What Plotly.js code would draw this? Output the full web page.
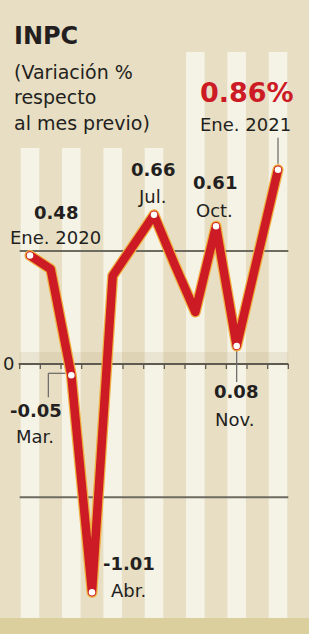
<!DOCTYPE html>
<html>
<head>
<meta charset="utf-8">
<script src="https://cdn.plot.ly/plotly-3.0.1.min.js"></script>
<style>
html,body{margin:0;padding:0;background:#e7dec3;}
#chart{width:309px;height:634px;}
path.js-line{stroke-linejoin:round !important;stroke-linecap:round !important;}
</style>
</head>
<body>
<div id="chart"></div>
<script>
// ---- data ----
const months = ["Ene. 2020","Feb.","Mar.","Abr.","May.","Jun.","Jul.","Ago.","Sep.","Oct.","Nov.","Dic.","Ene. 2021"];
const values = [0.48, 0.42, -0.05, -1.01, 0.39, 0.53, 0.66, 0.44, 0.23, 0.61, 0.08, 0.47, 0.86];
const labeledIdx = [0, 2, 3, 6, 9, 10, 12];
const valueTexts = ["0.48", "-0.05", "-1.01", "0.66", "0.61", "0.08", "0.86%"];
const monthTexts = ["Ene. 2020", "Mar.", "Abr.", "Jul.", "Oct.", "Nov.", "Ene. 2021"];
const gridVals = [0.5, -0.59];
const titleText = "INPC";
const subtitleLines = ["(Variación %", "respecto", "al mes previo)"];
const zeroLabel = "0";

// ---- layout helpers ----
const W = 309, H = 634;
const X0PX = 30, DXPX = 20.667, Y0PX = 364, DYPX = 226;
const xr = [-X0PX / DXPX, (W - X0PX) / DXPX];
const yr = [-(H - Y0PX) / DYPX, Y0PX / DYPX];
const yFromPx = p => (Y0PX - p) / DYPX;
const FONT = "'DejaVu Sans', sans-serif";
const INK = "#231f20";
const RED = "#cc1b24";

// label offsets (pixels) relative to each labeled point: [dx, dyValue, dyMonth]
const labelOffsets = [
  [26, 43, 18],
  [-35, -35, -61],
  [37, 29, 2],
  [-1, 45, 18],
  [-1, 44, 16],
  [-1, -46, -74],
  [-31, 77, 45]
];

const xs = months.map((m, i) => i);

const traces = [
  {x: xs, y: values, mode: "lines", line: {color: "#f0b040", width: 11}, hoverinfo: "skip"},
  {x: xs, y: values, mode: "lines", line: {color: RED, width: 8.5}, hoverinfo: "skip"},
  {x: labeledIdx, y: labeledIdx.map(i => values[i]), mode: "markers",
   marker: {color: "#ffffff", size: 6.5, line: {color: RED, width: 0}}, hoverinfo: "skip"}
];

const shapes = [];
// vertical stripes
for (let i = 0; i < months.length; i += 2) {
  shapes.push({type: "rect", layer: "below", xref: "x", yref: "y",
    x0: i - 0.45, x1: i + 0.45, y0: yFromPx(618), y1: yFromPx(i >= 8 ? 52 : 148),
    fillcolor: "#f5f2e6", line: {width: 0}});
}
// bottom band
shapes.push({type: "rect", layer: "below", xref: "paper", yref: "paper",
  x0: 0, x1: 1, y0: 0, y1: (H - 618) / H, fillcolor: "#dacf9d", line: {width: 0}});
// shade above zero line
shapes.push({type: "rect", layer: "below", xref: "x", yref: "y",
  x0: -0.5, x1: 12.5, y0: 0, y1: yFromPx(352), fillcolor: "rgba(170,150,100,0.14)", line: {width: 0}});
// gridlines
gridVals.forEach(v => shapes.push({type: "line", layer: "below", xref: "x", yref: "y",
  x0: -0.5, x1: 12.5, y0: v, y1: v, line: {color: "#6d6a60", width: 2}}));
// zero line + ticks
shapes.push({type: "line", layer: "below", xref: "x", yref: "y",
  x0: -0.55, x1: 12.5, y0: 0, y1: 0, line: {color: "#5e5a50", width: 2}});
for (let i = 0; i <= months.length; i++) {
  shapes.push({type: "line", layer: "below", xref: "x", yref: "y", ysizemode: "pixel", yanchor: 0,
    x0: i - 0.5, x1: i - 0.5, y0: 0, y1: -5, line: {color: "#5e5a50", width: 1.3}});
}
// leader lines
const LEAD = {color: "#666", width: 1.2};
shapes.push({type: "line", xref: "x", yref: "y", ysizemode: "pixel", yanchor: values[12],
  x0: 12, x1: 12, y0: 6, y1: 32, line: LEAD, layer: "below"});
shapes.push({type: "line", xref: "x", yref: "y", ysizemode: "pixel", yanchor: values[10],
  x0: 10, x1: 10, y0: -4, y1: -36, line: LEAD, layer: "below"});
shapes.push({type: "line", xref: "x", yref: "y", xsizemode: "pixel", xanchor: 2, ysizemode: "pixel", yanchor: values[2],
  x0: -23, x1: -6, y0: 2, y1: 2, line: LEAD, layer: "below"});
shapes.push({type: "line", xref: "x", yref: "y", xsizemode: "pixel", xanchor: 2, ysizemode: "pixel", yanchor: values[2],
  x0: -23, x1: -23, y0: 2, y1: -22, line: LEAD, layer: "below"});

const annotations = [];
labeledIdx.forEach((idx, k) => {
  const [dx, dyv, dym] = labelOffsets[k];
  const isLast = idx === months.length - 1;
  annotations.push({x: idx, y: values[idx], xref: "x", yref: "y", showarrow: false,
    xshift: dx, yshift: dyv, xanchor: "center", yanchor: "middle",
    text: "<b>" + valueTexts[k] + "</b>",
    font: {family: FONT, size: isLast ? 27 : 18, color: isLast ? RED : INK}});
  annotations.push({x: idx, y: values[idx], xref: "x", yref: "y", showarrow: false,
    xshift: dx - (isLast ? 2 : 1), yshift: dym, xanchor: "center", yanchor: "middle",
    text: monthTexts[k], font: {family: FONT, size: 18, color: INK}});
});
annotations.push({x: 8 / W, y: 1 - 363 / H, xref: "paper", yref: "paper", showarrow: false,
  xanchor: "center", yanchor: "middle", text: zeroLabel, font: {family: FONT, size: 18, color: INK}});
annotations.push({x: 12 / W, y: 1 - 36 / H, xref: "paper", yref: "paper", showarrow: false,
  xanchor: "left", yanchor: "middle", text: "<b>" + titleText + "</b>", font: {family: FONT, size: 24, color: INK}});
subtitleLines.forEach((t, k) => annotations.push({x: 12 / W, y: 1 - (72 + k * 25.5) / H, xref: "paper", yref: "paper",
  showarrow: false, xanchor: "left", yanchor: "middle", text: t, font: {family: FONT, size: 19, color: INK}}));

const layout = {
  width: W, height: H,
  margin: {l: 0, r: 0, t: 0, b: 0, pad: 0},
  paper_bgcolor: "#e7dec3", plot_bgcolor: "rgba(0,0,0,0)",
  showlegend: false,
  xaxis: {range: xr, visible: false, fixedrange: true},
  yaxis: {range: yr, visible: false, fixedrange: true},
  shapes: shapes, annotations: annotations
};

Plotly.newPlot("chart", traces, layout, {staticPlot: true, displayModeBar: false});
</script>
</body>
</html>
